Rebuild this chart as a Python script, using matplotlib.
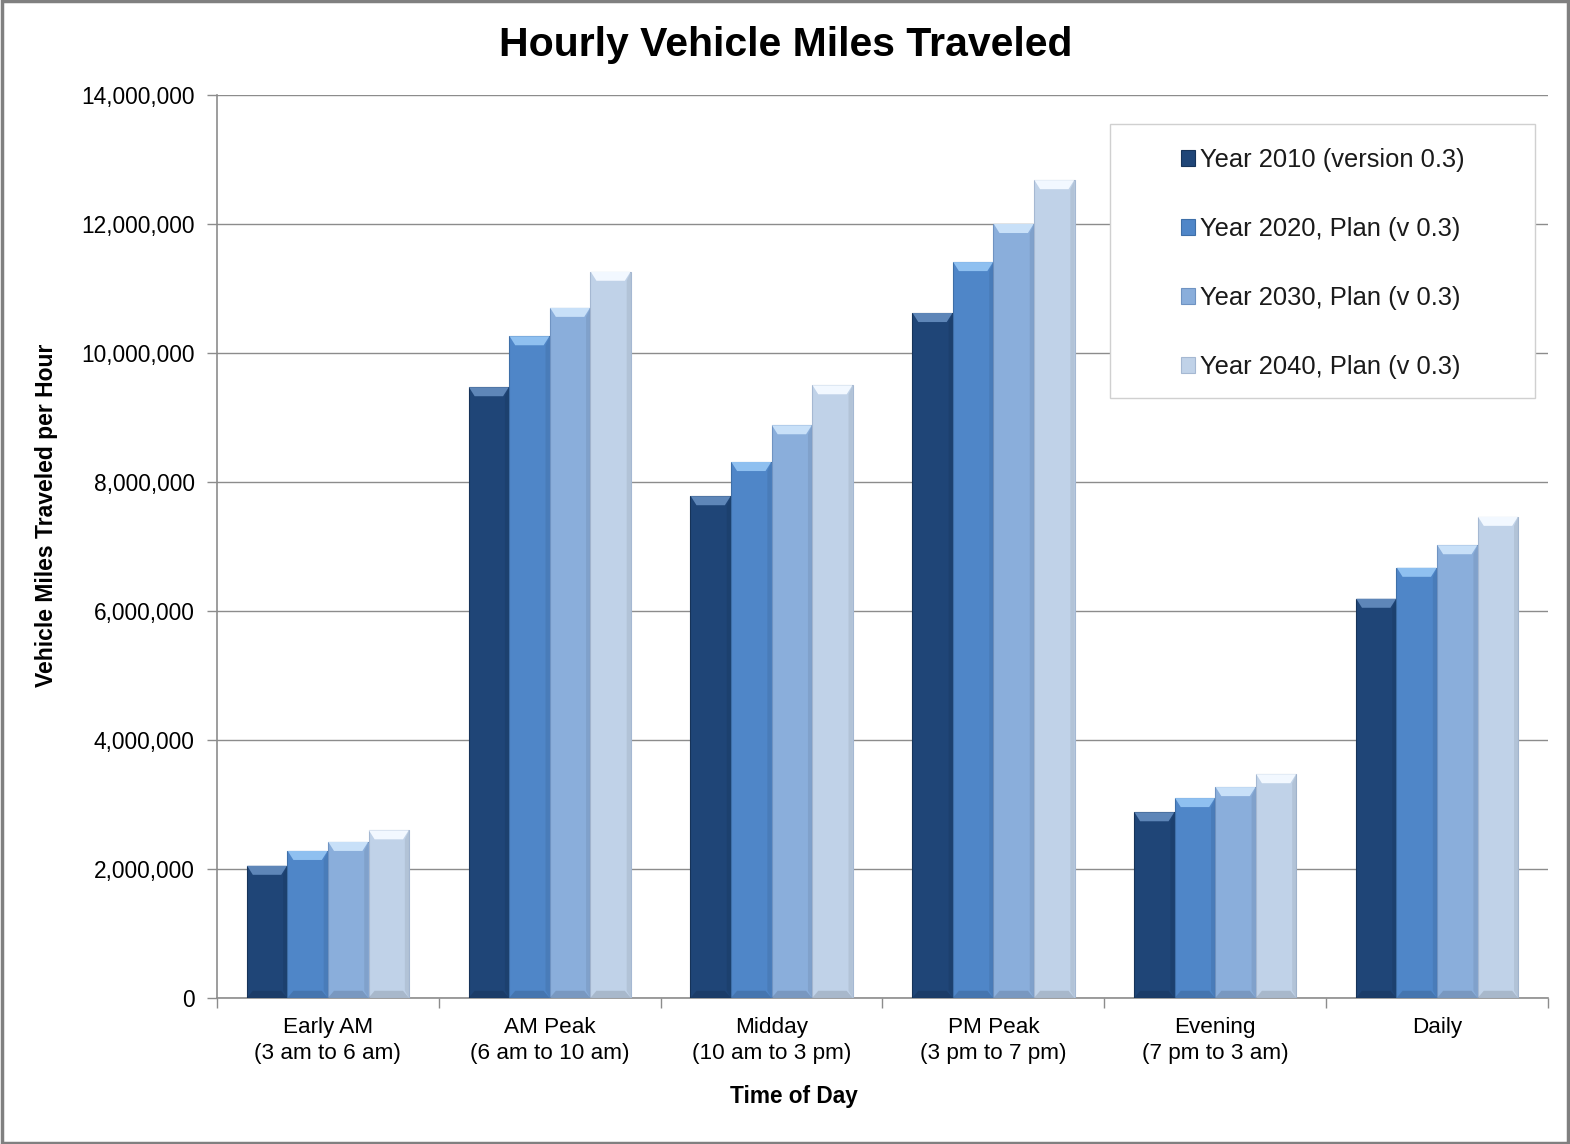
import matplotlib
matplotlib.use("Agg")
import matplotlib.pyplot as plt
from matplotlib.ticker import FuncFormatter, FixedLocator
from matplotlib.patches import Polygon, Rectangle
import numpy as np

plt.rcParams['font.family'] = ['Liberation Sans', 'DejaVu Sans']

categories = ["Early AM\n(3 am to 6 am)", "AM Peak\n(6 am to 10 am)", "Midday\n(10 am to 3 pm)",
              "PM Peak\n(3 pm to 7 pm)", "Evening\n(7 pm to 3 am)", "Daily"]
series_names = ["Year 2010 (version 0.3)", "Year 2020, Plan (v 0.3)",
                "Year 2030, Plan (v 0.3)", "Year 2040, Plan (v 0.3)"]
y2010 = [2050000, 9470000, 7780000, 10620000, 2880000, 6190000]
y2020 = [2280000, 10260000, 8310000, 11410000, 3100000, 6670000]
y2030 = [2420000, 10700000, 8880000, 12000000, 3270000, 7020000]
y2040 = [2600000, 11260000, 9500000, 12680000, 3470000, 7460000]
colors = ["#1F4577", "#4F86C8", "#8AAEDB", "#C0D2E8"]
highlights = ["#5E86B8", "#8FC0F0", "#C8E0F8", "#F2F8FF"]
edges = ["#163359", "#3E6FA8", "#6F93C2", "#A5B8D2"]

W, H = 1570, 1144
fig = plt.figure(figsize=(W / 100, H / 100), dpi=100)
ax = fig.add_axes([217 / W, 1 - 998 / H, (1548 - 217) / W, (998 - 95) / H])

x = np.arange(len(categories))
bw = 0.183
allv = [y2010, y2020, y2030, y2040]
for i, vals in enumerate(allv):
    offs = (i - 1.5) * bw
    bars = ax.bar(x + offs, vals, width=bw, color=colors[i], edgecolor=edges[i],
                  linewidth=0.8, label=series_names[i], zorder=3)
    # bevel highlights derived from each bar's geometry
    for b in bars:
        x0 = b.get_x(); w = b.get_width(); h = b.get_height()
        d = 0.15 * w
        dy = 140000
        poly = Polygon([[x0 + 0.01 * w, h], [x0 + w - 0.01 * w, h],
                        [x0 + w - d, h - dy], [x0 + d, h - dy]],
                       closed=True, facecolor=highlights[i], edgecolor='none', zorder=4)
        ax.add_patch(poly)
        bot = Polygon([[x0 + d, dy * 0.8], [x0 + w - d, dy * 0.8], [x0 + w, 0], [x0, 0]],
                      closed=True, facecolor='black', alpha=0.12, edgecolor='none', zorder=4)
        ax.add_patch(bot)
        side = Polygon([[x0 + w - d * 0.7, h - dy], [x0 + w, h], [x0 + w, 0], [x0 + w - d * 0.7, dy * 0.8]],
                       closed=True, facecolor='black', alpha=0.07, edgecolor='none', zorder=4)
        ax.add_patch(side)

ax.set_xlim(-0.5, len(categories) - 0.5)
ax.set_ylim(0, 14000000)
ax.yaxis.set_major_locator(FixedLocator(np.arange(0, 14000001, 2000000)))
ax.yaxis.set_major_formatter(FuncFormatter(lambda v, p: f"{int(v):,}"))
ax.grid(axis='y', color='#8C8C8C', linewidth=1.0, zorder=0)
ax.set_axisbelow(True)

ax.set_xticks(x)
ax.set_xticklabels(categories, fontsize=16.2, linespacing=1.3)
ax.tick_params(axis='x', which='major', length=0, pad=14)
ax.set_xticks(np.arange(-0.5, len(categories)), minor=True)
ax.tick_params(axis='x', which='minor', length=7, color='#8C8C8C', width=1)
ax.tick_params(axis='y', length=7, color='#8C8C8C', width=1, labelsize=16.4, pad=9)

for s in ['top', 'right']:
    ax.spines[s].set_visible(False)
for s in ['left', 'bottom']:
    ax.spines[s].set_color('#8C8C8C')
    ax.spines[s].set_linewidth(1.2)

fig.text(794 / W, 1 - 1097 / H, "Time of Day", fontsize=16.3, fontweight='bold',
         ha='center', va='center')
fig.text(47 / W, 1 - 515 / H, "Vehicle Miles Traveled per Hour", fontsize=16.5,
         fontweight='bold', rotation=90, ha='center', va='center')
fig.text(786 / W, 1 - 45 / H, "Hourly Vehicle Miles Traveled", fontsize=29.5,
         fontweight='bold', ha='center', va='center')

# legend frame (white box) drawn inside the axes but positioned in figure coords
frame = Rectangle((1110 / W, 1 - 398 / H), 425 / W, 274 / H, transform=fig.transFigure,
                  fill=True, facecolor='white', edgecolor='#D0D0D0', linewidth=1.0,
                  zorder=6, clip_on=False)
ax.add_patch(frame)

leg = ax.legend(loc='upper left', bbox_to_anchor=(1181 / W, 1 - 148 / H),
                bbox_transform=fig.transFigure, fontsize=18.4, frameon=False,
                labelspacing=1.76, handlelength=0.55, handleheight=0.55, handletextpad=0.2,
                borderpad=0, borderaxespad=0)
leg.set_zorder(10)
for t in leg.get_texts():
    t.set_color('#1a1a1a')

# figure border
fig.patches.append(Rectangle((0.001, 0.001), 0.998, 0.998, transform=fig.transFigure,
                             fill=False, edgecolor='#808080', linewidth=2.5))

fig.savefig("out.png", dpi=100)
